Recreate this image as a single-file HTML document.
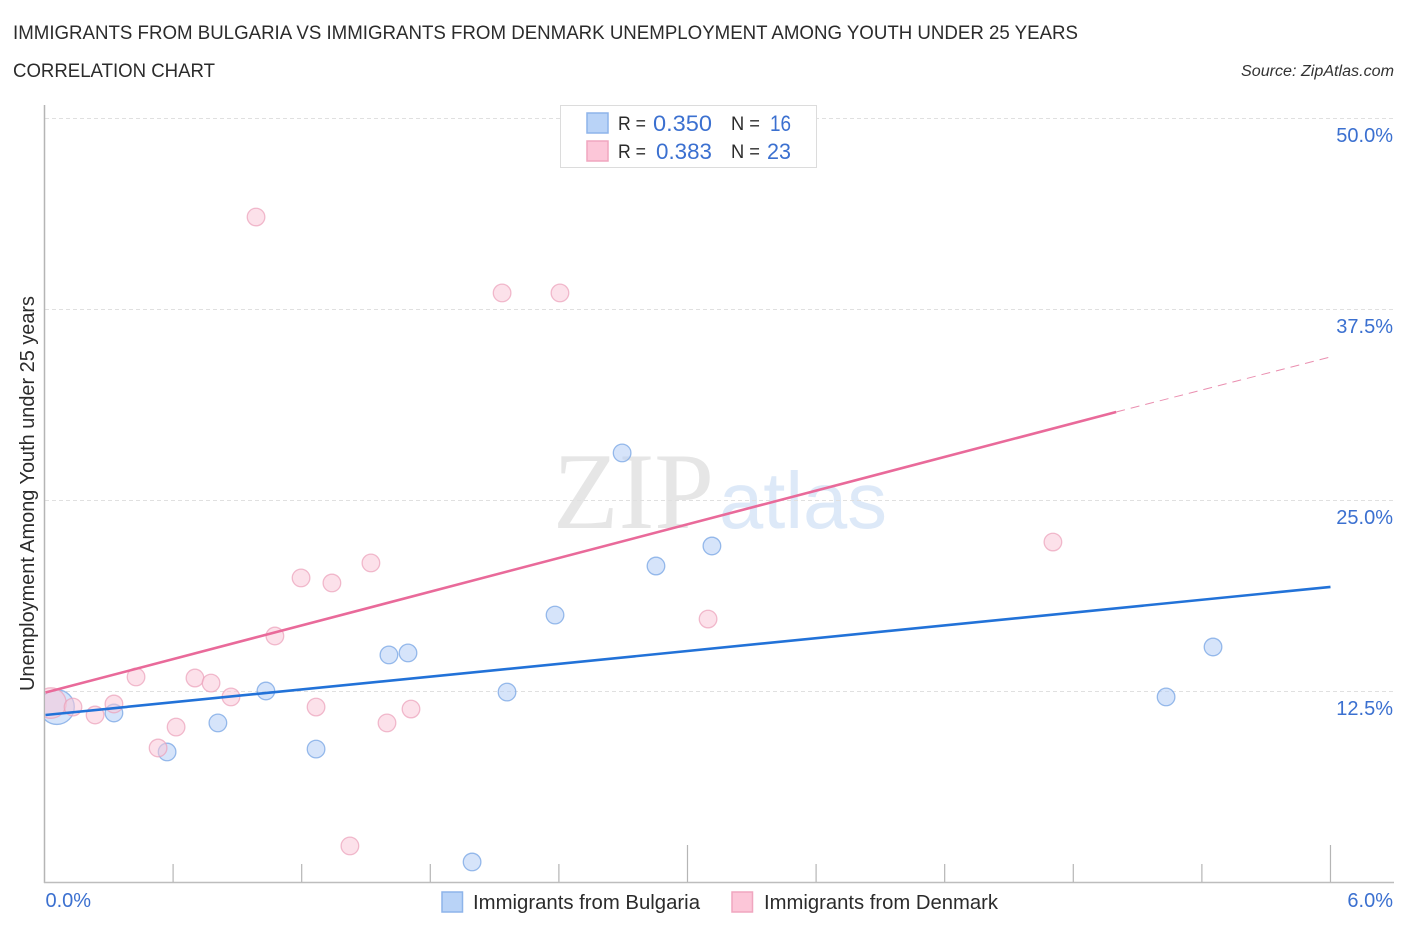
<!DOCTYPE html>
<html lang="en">
<head>
<meta charset="utf-8">
<title>Immigrants from Bulgaria vs Immigrants from Denmark Unemployment Among Youth Under 25 Years</title>
<style>
html,body{margin:0;padding:0;background:#fff;width:1406px;height:930px;overflow:hidden}
svg{display:block;font-family:"Liberation Sans",sans-serif}
</style>
</head>
<body>
<svg id="chart" width="1406" height="930" viewBox="0 0 1406 930" xmlns="http://www.w3.org/2000/svg">
  <text x="13" y="39" font-size="19" fill="#2b2b2b" textLength="1065" lengthAdjust="spacingAndGlyphs">IMMIGRANTS FROM BULGARIA VS IMMIGRANTS FROM DENMARK UNEMPLOYMENT AMONG YOUTH UNDER 25 YEARS</text>
  <text x="13" y="77" font-size="19" fill="#2b2b2b" textLength="202" lengthAdjust="spacingAndGlyphs">CORRELATION CHART</text>
  <text x="1394" y="76" font-size="15.5" font-style="italic" fill="#333" text-anchor="end" textLength="153" lengthAdjust="spacingAndGlyphs">Source: ZipAtlas.com</text>

  <text x="553" y="528" font-family="'Liberation Serif',serif" font-size="109" fill="#e6e6e6" textLength="161" lengthAdjust="spacingAndGlyphs">ZIP</text>
  <text x="719" y="528" font-size="80" fill="#dde9f8" textLength="168" lengthAdjust="spacingAndGlyphs">atlas</text>

  <g id="grid"></g>
  <g id="yticks"></g>
  <g id="axes"></g>
  <defs>
    <clipPath id="plot-clip"><rect x="45" y="100" width="1300" height="782"></rect></clipPath>
  </defs>
  <g id="points" clip-path="url(#plot-clip)"></g>
  <g id="trends"></g>

  <text transform="translate(34,691) rotate(-90)" font-size="20" fill="#2b2b2b" textLength="395" lengthAdjust="spacingAndGlyphs">Unemployment Among Youth under 25 years</text>

  <g>
    <rect x="560.5" y="105.5" width="256" height="62" fill="#fff" stroke="#dcdcdc" stroke-width="1"></rect>
    <rect x="587" y="113" width="21" height="20" fill="#b9d3f7" stroke="#8db4ea" stroke-width="1.5"></rect>
    <rect x="587" y="141" width="21" height="20" fill="#fcc6d8" stroke="#f0a6bf" stroke-width="1.5"></rect>
    <text x="618" y="130" font-size="19" fill="#2b2b2b" textLength="28" lengthAdjust="spacingAndGlyphs">R =</text>
    <text x="653" y="131" font-size="22" fill="#3b70d0" textLength="59" lengthAdjust="spacingAndGlyphs">0.350</text>
    <text x="731" y="130" font-size="19" fill="#2b2b2b" textLength="29" lengthAdjust="spacingAndGlyphs">N =</text>
    <text x="770" y="131" font-size="22" fill="#3b70d0" textLength="21" lengthAdjust="spacingAndGlyphs">16</text>
    <text x="618" y="158" font-size="19" fill="#2b2b2b" textLength="28" lengthAdjust="spacingAndGlyphs">R =</text>
    <text x="656" y="159" font-size="22" fill="#3b70d0" textLength="56" lengthAdjust="spacingAndGlyphs">0.383</text>
    <text x="731" y="158" font-size="19" fill="#2b2b2b" textLength="29" lengthAdjust="spacingAndGlyphs">N =</text>
    <text x="767" y="159" font-size="22" fill="#3b70d0" textLength="24" lengthAdjust="spacingAndGlyphs">23</text>
  </g>

  <g>
    <rect x="442" y="892" width="20.5" height="20" fill="#b9d3f7" stroke="#8db4ea" stroke-width="1.5"></rect>
    <text x="473" y="909" font-size="20" fill="#2b2b2b" textLength="227" lengthAdjust="spacingAndGlyphs">Immigrants from Bulgaria</text>
    <rect x="732" y="892" width="20.5" height="20" fill="#fcc6d8" stroke="#f0a6bf" stroke-width="1.5"></rect>
    <text x="764" y="909" font-size="20" fill="#2b2b2b" textLength="234" lengthAdjust="spacingAndGlyphs">Immigrants from Denmark</text>
  </g>
</svg>
<script>
var yTickValues = [12.5, 25, 37.5, 50];
var yTickLabels = ['12.5%', '25.0%', '37.5%', '50.0%'];
var xTickValues = [0, 0.6, 1.2, 1.8, 2.4, 3.0, 3.6, 4.2, 4.8, 5.4, 6.0];
var xMajorTicks = [3.0, 6.0];
var xEndValues = [0, 6];
var xEndLabels = ['0.0%', '6.0%'];

var bulgariaX = [0.058, 0.324, 0.572, 0.809, 1.033, 1.267, 1.607, 1.696, 1.995, 2.158, 2.382, 2.695, 2.853, 3.114, 5.233, 5.452];
var bulgariaY = [11.45, 11.06, 8.51, 10.41, 12.5, 8.70, 14.86, 14.99, 1.31, 12.43, 17.47, 28.08, 20.68, 21.99, 12.11, 15.38];
var bulgariaWeight = [3.9, 1, 1, 1, 1, 1, 1, 1, 1, 1, 1, 1, 1, 1, 1, 1];

var denmarkX = [0.03, 0.133, 0.236, 0.324, 0.427, 0.530, 0.614, 0.702, 0.777, 0.870, 0.987, 1.075, 1.197, 1.267, 1.341, 1.425, 1.523, 1.598, 1.710, 2.135, 2.405, 3.096, 4.705];
var denmarkY = [11.71, 11.45, 10.93, 11.65, 13.42, 8.77, 10.14, 13.35, 13.02, 12.11, 43.52, 16.10, 19.90, 11.45, 19.57, 2.36, 20.88, 10.41, 11.32, 38.55, 38.55, 17.21, 22.25];
var denmarkWeight = [3, 1, 1, 1, 1, 1, 1, 1, 1, 1, 1, 1, 1, 1, 1, 1, 1, 1, 1, 1, 1, 1, 1];

var bulgariaTrendX = [0, 6];
var bulgariaTrendY = [10.93, 19.31];
var denmarkTrendX = [0, 5];
var denmarkTrendY = [12.4, 30.76];
var denmarkForecastX = [5, 6];
var denmarkForecastY = [30.76, 34.36];

var NS = 'http://www.w3.org/2000/svg';
function sx(v) { return 44.5 + v * 214.33; }
function sy(v) { return 882 - v * 15.28; }
function make(parent, tag, attrs, text) {
  var el = document.createElementNS(NS, tag);
  for (var k in attrs) { el.setAttribute(k, attrs[k]); }
  if (text !== undefined) { el.textContent = text; }
  document.getElementById(parent).appendChild(el);
  return el;
}

yTickValues.forEach(function (v, i) {
  var gy = Math.round(sy(v)) + 0.5;
  var g = make('grid', 'line', { x1: 45, x2: 1393, y1: gy, y2: gy, stroke: '#e0e0e0', 'stroke-width': 1, 'stroke-dasharray': '4 3' });
  
  
  var t = make('yticks', 'text', { x: 1393, y: sy(v) + 24, 'font-size': 20, fill: '#3b70d0', 'text-anchor': 'end' }, yTickLabels[i]);
  
  
});

var yAxis = make('axes', 'line', { x1: 44.5, x2: 44.5, y1: 105, y2: 883, stroke: '#b5b5b5', 'stroke-width': 1.5 });


var xAxis = make('axes', 'line', { x1: 44, x2: 1394, y1: 882.5, y2: 882.5, stroke: '#bdbdbd', 'stroke-width': 1.5 });



xTickValues.forEach(function (v) {
  if (v === 0) { return; }
  var major = xMajorTicks.indexOf(v) >= 0;
  var tick = make('axes', 'line', { x1: sx(v), x2: sx(v), y1: major ? 845 : 864, y2: 882, stroke: '#b5b5b5', 'stroke-width': 1.2 });
  
  
});

xEndValues.forEach(function (v, i) {
  var lbl = make('axes', 'text', { x: i === 0 ? sx(v) + 1 : 1393, y: 907, 'font-size': 20, fill: '#3b70d0', 'text-anchor': i === 0 ? 'start' : 'end' }, xEndLabels[i]);
  
  
});

function drawPoints(xs, ys, ws, fill, stroke, name) {
  xs.forEach(function (x, i) {
    var c = make('points', 'circle', { cx: sx(x), cy: sy(ys[i]), r: 8.8 * Math.sqrt(ws[i]), fill: fill, 'fill-opacity': 0.55, stroke: stroke, 'stroke-opacity': 0.7, 'stroke-width': 1.3 });
    
    
  });
}
drawPoints(bulgariaX, bulgariaY, bulgariaWeight, '#b4cdf5', '#6f9fe3', 'point-bulgaria');
drawPoints(denmarkX, denmarkY, denmarkWeight, '#f9c8d8', '#eba0b9', 'point-denmark');

var blueLine = make('trends', 'line', { x1: sx(bulgariaTrendX[0]) + 1, y1: sy(bulgariaTrendY[0]), x2: sx(bulgariaTrendX[1]), y2: sy(bulgariaTrendY[1]), stroke: '#2272d8', 'stroke-width': 2.6 });


var pinkLine = make('trends', 'line', { x1: sx(denmarkTrendX[0]) + 1, y1: sy(denmarkTrendY[0]), x2: sx(denmarkTrendX[1]), y2: sy(denmarkTrendY[1]), stroke: '#e96a9a', 'stroke-width': 2.6 });


var pinkDash = make('trends', 'line', { x1: sx(denmarkForecastX[0]), y1: sy(denmarkForecastY[0]), x2: sx(denmarkForecastX[1]), y2: sy(denmarkForecastY[1]), stroke: '#ea8fb0', 'stroke-width': 1, 'stroke-dasharray': '9 6' });


</script>
</body>
</html>
